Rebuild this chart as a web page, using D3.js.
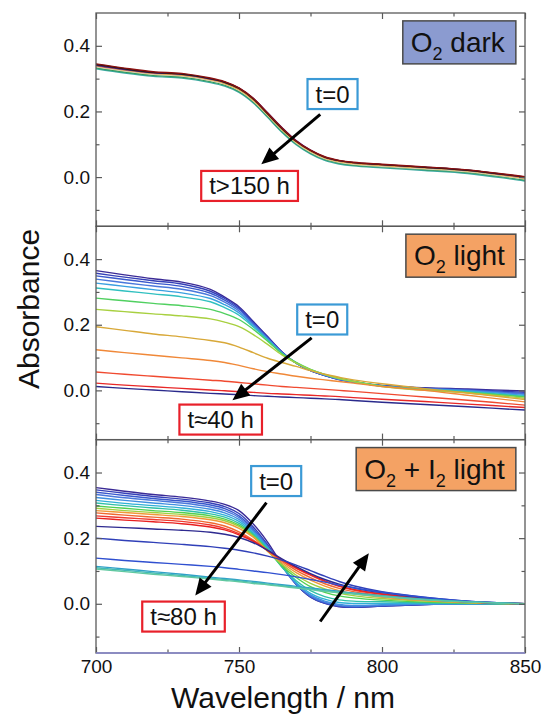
<!DOCTYPE html>
<html><head><meta charset="utf-8">
<script src="https://cdn.jsdelivr.net/npm/d3@7"></script>
<style>
body{margin:0;background:#fff}
svg{display:block}
text{font-family:Arial,"Liberation Sans",sans-serif;fill:#111}
</style>
</head><body>
<svg id="chart" width="544" height="717"></svg>
<script>
// ---------------- DATA ----------------
const wavelengths = [700,710,720,730,740,745,750,755,760,765,770,775,780,785,790,800,815,830,850];
const xTicksMajor = [700,750,800,850];
const xTicksMinor = [725,775,825];
const xTickLabels = ["700","750","800","850"];
const yTicksMajor = [0.0,0.2,0.4];
const yTicksMinor = [-0.1,0.1,0.3];
const yTickLabels = ["0.0","0.2","0.4"];

// Panel 1: O2 dark
const darkSeries = [
 [.330,.317,.307,.302,.288,.277,.258,.226,.182,.137,.099,.071,.051,.040,.034,.028,.020,.011,-.012],
 [.333,.320,.310,.305,.291,.280,.261,.229,.185,.140,.102,.074,.054,.043,.037,.031,.023,.014,-.009],
 [.336,.323,.313,.308,.294,.283,.264,.232,.188,.143,.104,.076,.056,.045,.039,.033,.025,.016,-.006],
 [.339,.326,.316,.311,.297,.286,.267,.235,.191,.146,.107,.079,.059,.048,.042,.036,.028,.019,-.003],
 [.341,.328,.318,.313,.299,.289,.271,.240,.196,.151,.111,.082,.061,.050,.044,.038,.030,.021,-.001],
 [.343,.330,.319,.314,.300,.289,.270,.238,.193,.148,.109,.081,.061,.050,.044,.038,.030,.021,.000],
 [.345,.332,.321,.316,.302,.291,.272,.240,.195,.150,.110,.082,.062,.051,.045,.039,.031,.022,.001]
];
const darkColors = ["#3aa8a0","#2e9a5a","#d8d0b0","#e0902a","#5a1e8e","#1a1a1a","#8a1010"];

// Panel 2: O2 light
const lightSeries = [
 [.365,.352,.340,.330,.308,.284,.255,.210,.164,.118,.083,.060,.045,.033,.025,.015,.008,.004,-.002],
 [.357,.345,.334,.324,.302,.280,.251,.207,.162,.117,.083,.060,.045,.033,.025,.014,.007,.002,-.006],
 [.349,.338,.327,.317,.296,.275,.247,.204,.160,.116,.083,.061,.046,.034,.026,.014,.006,.001,-.010],
 [.339,.328,.318,.308,.289,.269,.242,.201,.158,.115,.083,.061,.046,.034,.026,.013,.005,.000,-.012],
 [.327,.317,.307,.297,.280,.261,.236,.197,.156,.114,.083,.062,.047,.035,.027,.013,.004,-.002,-.015],
 [.312,.303,.294,.285,.270,.252,.229,.193,.154,.113,.084,.063,.048,.036,.027,.013,.003,-.004,-.018],
 [.281,.273,.265,.258,.247,.234,.216,.186,.150,.112,.085,.064,.049,.037,.028,.013,.002,-.006,-.020],
 [.247,.240,.233,.227,.218,.208,.194,.170,.140,.108,.083,.063,.048,.036,.027,.012,.000,-.008,-.024],
 [.194,.183,.172,.163,.152,.145,.132,.115,.098,.085,.073,.060,.049,.040,.032,.020,.005,-.008,-.028],
 [.124,.115,.107,.099,.091,.085,.076,.066,.057,.050,.043,.037,.032,.027,.022,.012,.000,-.015,-.035],
 [.056,.049,.043,.037,.031,.028,.024,.020,.016,.012,.009,.006,.003,.000,-.003,-.010,-.020,-.030,-.045],
 [.022,.016,.011,.006,.001,-.001,-.004,-.006,-.009,-.011,-.013,-.015,-.017,-.019,-.022,-.027,-.034,-.042,-.052],
 [.012,.006,.001,-.004,-.009,-.011,-.013,-.016,-.018,-.020,-.022,-.024,-.026,-.028,-.031,-.036,-.043,-.050,-.060]
];
const lightColors = ["#3a2a96","#3540b8","#3a58cc","#4a78dc","#3aa0e0","#30c0c0","#50d060","#a8d040","#d8a838","#f08838","#f04a30","#e82828","#2a2a8c"];

// Panel 3: O2 + I2 light
const iodineSeries = [
 [.354,.343,.333,.325,.313,.303,.284,.243,.188,.120,.060,.020,.001,-.009,-.011,-.007,-.002,.000,.000],
 [.347,.337,.327,.319,.307,.296,.275,.234,.180,.116,.059,.021,.002,-.008,-.010,-.007,-.002,.000,.000],
 [.340,.330,.321,.313,.301,.290,.268,.228,.176,.115,.060,.022,.003,-.007,-.010,-.006,-.002,.000,.000],
 [.333,.323,.315,.307,.295,.284,.263,.224,.174,.115,.061,.024,.005,-.005,-.008,-.005,-.001,.000,.000],
 [.324,.315,.307,.300,.288,.277,.257,.220,.172,.114,.062,.027,.008,-.002,-.005,-.003,-.001,.000,.000],
 [.315,.306,.299,.292,.281,.270,.251,.216,.170,.113,.065,.032,.014,.004,.001,.001,.001,.000,.000],
 [.307,.299,.292,.285,.274,.264,.245,.212,.167,.112,.070,.040,.022,.012,.008,.006,.003,.001,.000],
 [.298,.291,.284,.278,.268,.258,.240,.208,.163,.115,.080,.052,.035,.024,.018,.011,.005,.002,.000],
 [.291,.284,.278,.272,.262,.253,.236,.206,.160,.120,.087,.062,.045,.033,.025,.016,.008,.003,.000],
 [.284,.278,.272,.266,.256,.247,.230,.203,.160,.125,.095,.072,.054,.040,.031,.020,.010,.004,.000],
 [.277,.270,.264,.258,.247,.237,.219,.194,.162,.130,.102,.080,.061,.047,.037,.025,.013,.005,.000],
 [.268,.262,.257,.251,.240,.230,.214,.192,.163,.134,.108,.087,.068,.053,.042,.029,.015,.006,.000],
 [.261,.255,.250,.244,.234,.225,.210,.190,.163,.135,.110,.089,.070,.055,.044,.030,.016,.006,.000],
 [.236,.232,.228,.224,.218,.212,.202,.186,.163,.137,.113,.092,.074,.060,.049,.034,.018,.007,.000],
 [.200,.193,.187,.181,.174,.169,.163,.155,.145,.133,.118,.101,.084,.068,.055,.037,.020,.008,.000],
 [.139,.132,.126,.120,.114,.110,.105,.100,.095,.089,.082,.074,.066,.057,.049,.035,.019,.008,.000],
 [.114,.106,.098,.090,.081,.077,.073,.068,.063,.058,.053,.048,.043,.038,.033,.025,.014,.006,.000],
 [.110,.102,.094,.086,.078,.074,.070,.065,.060,.055,.050,.045,.040,.035,.031,.023,.013,.006,.000],
 [.106,.098,.090,.083,.075,.071,.067,.062,.058,.053,.048,.043,.038,.034,.030,.022,.012,.005,.000]
];
const iodineColors = ["#3a2a96","#3540b8","#3a58cc","#4a78dc","#4090e0","#30b0d8","#30c0a8","#50d050","#a0d040","#f09838","#f06830","#f03a30","#e82020","#2e2a90","#3040b8","#3050d0","#30a0c8","#40b8b8","#60c8a0"];

// Annotations (data coordinates)
const panelLabels = [
  {parts:[["O",0],["2",1],[" dark",0]], right:846.8, top:0.476, fill:"#8b9bd0"},
  {parts:[["O",0],["2",1],[" light",0]], right:846.8, top:0.476, fill:"#f4a264"},
  {parts:[["O",0],["2",1],[" + I",0],["2",1],[" light",0]], right:846.8, top:0.476, fill:"#f4a264"}
];
const timeBoxes = [
  [{text:"t=0", cx:782.7, cy:0.253, stroke:"#3b9ad6"}, {text:"t>150 h", cx:753.7, cy:-0.027, stroke:"#e8202a"}],
  [{text:"t=0", cx:779.1, cy:0.216, stroke:"#3b9ad6"}, {text:"t\u224840 h", cx:743.6, cy:-0.089, stroke:"#e8202a"}],
  [{text:"t=0", cx:763.0, cy:0.374, stroke:"#3b9ad6"}, {text:"t\u224880 h", cx:730.6, cy:-0.039, stroke:"#e8202a"}]
];
const arrows = [
  [[778.4,0.191,757.8,0.039]],
  [[775.4,0.160,747.7,-0.030]],
  [[759.6,0.308,734.7,0.025],[778.4,-0.054,795.4,0.154]]
];

// ---------------- LAYOUT ----------------
const plotLeft = 96, plotRight = 525;
const panelTops = [13, 226.3, 439.7];
const panelH = 213.3;
const svg = d3.select("#chart");
const x = d3.scaleLinear().domain([700,850]).range([plotLeft, plotRight]);
const panels = [
  {series: darkSeries, colors: darkColors},
  {series: lightSeries, colors: lightColors},
  {series: iodineSeries, colors: iodineColors}
];
const axisColor = "#5a5a5a";

panels.forEach((p, i) => {
  const top = panelTops[i], bottom = top + panelH;
  const y = d3.scaleLinear().domain([-0.15, 0.5]).range([bottom, top]);
  const g = svg.append("g");
  const clipId = "clip" + i;
  svg.append("clipPath").attr("id", clipId).append("rect")
    .attr("x", plotLeft).attr("y", top).attr("width", plotRight - plotLeft).attr("height", panelH);

  const line = d3.line().x((d, j) => x(wavelengths[j])).y(d => y(d)).curve(d3.curveCatmullRom.alpha(0.5));
  g.append("g").attr("clip-path", `url(#${clipId})`)
    .selectAll("path").data(p.series).join("path")
    .attr("d", line).attr("fill", "none")
    .attr("stroke", (d, k) => p.colors[k]).attr("stroke-width", 1.4);

  const style = sel => {
    sel.select(".domain").remove();
    sel.selectAll(".tick line").attr("stroke", axisColor).attr("stroke-width", 1.2);
    sel.selectAll(".tick text").attr("font-size", 19).attr("fill", "#111")
      .attr("font-family", "Arial, 'Liberation Sans', sans-serif");
  };
  // bottom
  g.append("g").attr("transform", `translate(0,${bottom})`)
    .call(d3.axisBottom(x).tickValues(xTicksMajor).tickSize(-6).tickSizeOuter(0).tickPadding(6.5)
      .tickFormat((d, k) => i === 2 ? xTickLabels[k] : "")).call(style);
  g.append("g").attr("transform", `translate(0,${bottom})`)
    .call(d3.axisBottom(x).tickValues(xTicksMinor).tickSize(-3.5).tickSizeOuter(0).tickFormat(() => "")).call(style);
  // top
  g.append("g").attr("transform", `translate(0,${top})`)
    .call(d3.axisTop(x).tickValues(xTicksMajor).tickSize(-6).tickSizeOuter(0).tickFormat(() => "")).call(style);
  g.append("g").attr("transform", `translate(0,${top})`)
    .call(d3.axisTop(x).tickValues(xTicksMinor).tickSize(-3.5).tickSizeOuter(0).tickFormat(() => "")).call(style);
  // left
  g.append("g").attr("transform", `translate(${plotLeft},0)`)
    .call(d3.axisLeft(y).tickValues(yTicksMajor).tickSize(-6).tickSizeOuter(0).tickPadding(6)
      .tickFormat((d, k) => yTickLabels[k])).call(style);
  g.append("g").attr("transform", `translate(${plotLeft},0)`)
    .call(d3.axisLeft(y).tickValues(yTicksMinor).tickSize(-3.5).tickSizeOuter(0).tickFormat(() => "")).call(style);
  // right
  g.append("g").attr("transform", `translate(${plotRight},0)`)
    .call(d3.axisRight(y).tickValues(yTicksMajor).tickSize(-6).tickSizeOuter(0).tickFormat(() => "")).call(style);
  g.append("g").attr("transform", `translate(${plotRight},0)`)
    .call(d3.axisRight(y).tickValues(yTicksMinor).tickSize(-3.5).tickSizeOuter(0).tickFormat(() => "")).call(style);

  // frame
  g.append("rect").attr("x", plotLeft).attr("y", top).attr("width", plotRight - plotLeft).attr("height", panelH)
    .attr("fill", "none").attr("stroke", axisColor).attr("stroke-width", 1.3);
  if (i === 2) {
    g.append("line").attr("x1", plotLeft).attr("x2", plotRight).attr("y1", bottom).attr("y2", bottom)
      .attr("stroke", "#8a8ad0").attr("stroke-width", 1.4);
  }

  // arrows
  arrows[i].forEach(a => {
    const x1 = x(a[0]), y1 = y(a[1]), x2 = x(a[2]), y2 = y(a[3]);
    const ang = Math.atan2(y2 - y1, x2 - x1);
    const L = 17, Wd = 7.5;
    const bx = x2 - L * Math.cos(ang), by = y2 - L * Math.sin(ang);
    g.append("line").attr("x1", x1).attr("y1", y1).attr("x2", bx + 2 * Math.cos(ang)).attr("y2", by + 2 * Math.sin(ang))
      .attr("stroke", "#000").attr("stroke-width", 3);
    const px = -Math.sin(ang), py = Math.cos(ang);
    g.append("path").attr("d", `M${x2},${y2}L${bx + Wd * px},${by + Wd * py}L${bx - Wd * px},${by - Wd * py}Z`)
      .attr("fill", "#000");
  });

  // time boxes
  timeBoxes[i].forEach(b => {
    const cx = x(b.cx), cy = y(b.cy);
    const bg = g.append("g");
    const rect = bg.append("rect");
    const t = bg.append("text").attr("x", cx).attr("y", cy + 8.5).attr("text-anchor", "middle")
      .attr("font-size", 24).text(b.text);
    const w = t.node().getComputedTextLength() + 16;
    rect.attr("x", cx - w / 2).attr("y", cy - 15).attr("width", w).attr("height", 30)
      .attr("fill", "#fff").attr("stroke", b.stroke).attr("stroke-width", 2.2);
  });

  // panel label
  const pl = panelLabels[i];
  const lg = g.append("g");
  const lrect = lg.append("rect");
  const ltop = y(pl.top), lright = x(pl.right);
  const lt = lg.append("text").attr("font-size", 28).attr("y", ltop + 31);
  let baseShift = 0;
  pl.parts.forEach(([s, sub]) => {
    const dy = sub ? 8 - baseShift : -baseShift;
    baseShift = sub ? 8 : 0;
    lt.append("tspan").attr("dy", dy).attr("font-size", sub ? 18 : 28).text(s);
  });
  const lw = lt.node().getComputedTextLength();
  const boxW = lw + 19;
  lt.attr("x", lright - boxW + 8);
  lrect.attr("x", lright - boxW).attr("y", ltop).attr("width", boxW).attr("height", 43)
    .attr("fill", pl.fill).attr("stroke", "#4a4a4a").attr("stroke-width", 1.5);
});

// axis titles
svg.append("text").attr("x", 283).attr("y", 708).attr("text-anchor", "middle")
  .attr("font-size", 30).text("Wavelength / nm");
svg.append("text").attr("transform", "translate(39,309) rotate(-90)").attr("text-anchor", "middle")
  .attr("font-size", 30).text("Absorbance");
</script>
</body></html>
